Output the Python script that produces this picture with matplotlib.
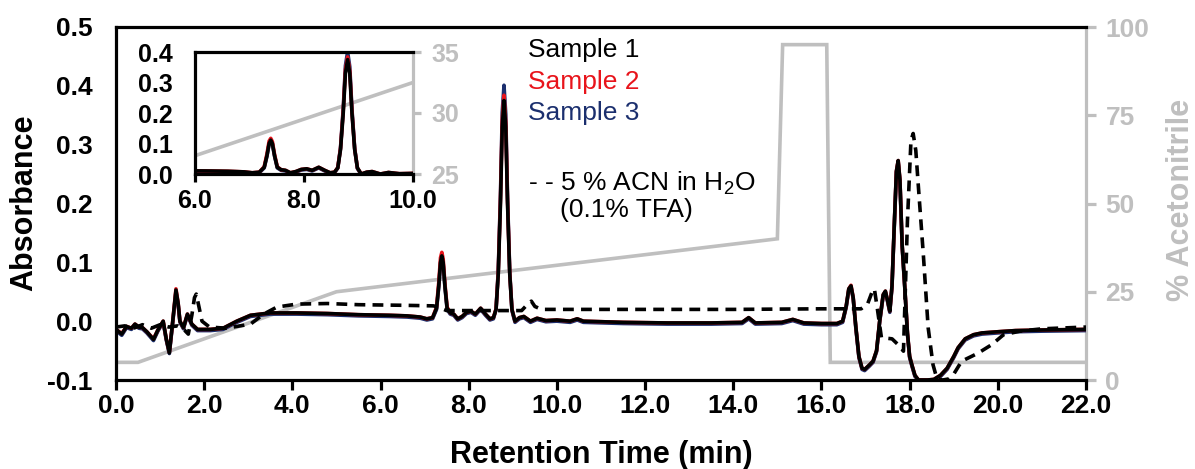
import matplotlib
matplotlib.use("Agg")
import matplotlib.pyplot as plt
from matplotlib.ticker import FixedLocator, FormatStrFormatter

plt.rcParams['font.family'] = ['Liberation Sans', 'DejaVu Sans']
plt.rcParams['mathtext.fontset'] = 'custom'
plt.rcParams['mathtext.rm'] = 'Liberation Sans'
plt.rcParams['mathtext.default'] = 'regular'

# ---------------- data ----------------
time_s = [0.00, 0.13, 0.24, 0.35, 0.43, 0.52, 0.60, 0.70, 0.85, 0.95, 1.07, 1.14, 1.21, 1.28,
          1.36, 1.41, 1.45, 1.53, 1.62, 1.72, 1.85, 2.14, 2.43, 2.74, 3.05, 3.50, 4.10, 4.80,
          5.50, 6.20, 6.60, 6.90, 7.05, 7.18, 7.27, 7.32, 7.36, 7.39, 7.42, 7.46, 7.51, 7.58,
          7.66, 7.75, 7.85, 7.95, 8.05, 8.15, 8.27, 8.38, 8.48, 8.56, 8.62, 8.67, 8.72, 8.76,
          8.80, 8.84, 8.88, 8.93, 8.98, 9.05, 9.15, 9.25, 9.40, 9.55, 9.75, 10.00, 10.30, 10.46,
          10.60, 11.50, 12.50, 13.50, 14.20, 14.35, 14.50, 15.10, 15.35, 15.60, 16.00, 16.35,
          16.48, 16.56, 16.62, 16.67, 16.72, 16.78, 16.85, 16.92, 16.98, 17.08, 17.17, 17.25,
          17.32, 17.40, 17.45, 17.50, 17.55, 17.60, 17.65, 17.70, 17.74, 17.78, 17.83, 17.89,
          17.95, 18.00, 18.05, 18.12, 18.20, 18.40, 18.55, 18.70, 18.85, 19.00, 19.10, 19.26,
          19.45, 19.64, 20.00, 20.40, 21.00, 22.00]

sample1 = [-0.014, -0.022, -0.009, -0.012, -0.005, -0.010, -0.011, -0.018, -0.031, -0.015,
           0.000, -0.030, -0.054, -0.005, 0.053, 0.030, 0.000, -0.011, 0.012, -0.005, -0.014,
           -0.014, -0.012, 0.000, 0.010, 0.014, 0.014, 0.013, 0.011, 0.010, 0.009, 0.007,
           0.004, 0.006, 0.022, 0.060, 0.100, 0.111, 0.100, 0.060, 0.022, 0.014, 0.012, 0.004,
           0.008, 0.015, 0.017, 0.012, 0.022, 0.012, 0.004, 0.006, 0.020, 0.080, 0.200, 0.330,
           0.375, 0.330, 0.200, 0.080, 0.020, 0.000, 0.006, 0.008, 0.000, 0.005, 0.001, 0.002,
           0.000, 0.004, 0.000, -0.002, -0.003, -0.003, -0.002, 0.006, -0.003, -0.002, 0.003,
           -0.003, -0.004, -0.004, 0.000, 0.025, 0.055, 0.060, 0.040, -0.010, -0.060, -0.080,
           -0.082, -0.075, -0.068, -0.050, 0.000, 0.045, 0.051, 0.035, 0.017, 0.060, 0.160,
           0.255, 0.273, 0.240, 0.130, 0.058, -0.020, -0.060, -0.074, -0.092, -0.100, -0.100,
           -0.099, -0.092, -0.080, -0.060, -0.045, -0.030, -0.023, -0.020, -0.018, -0.016,
           -0.015, -0.014]

sample2 = [-0.014, -0.021, -0.009, -0.012, -0.005, -0.010, -0.011, -0.018, -0.030, -0.015,
           0.000, -0.030, -0.053, -0.005, 0.055, 0.030, 0.000, -0.011, 0.012, -0.005, -0.014,
           -0.014, -0.012, 0.000, 0.010, 0.014, 0.014, 0.013, 0.011, 0.010, 0.009, 0.007,
           0.004, 0.006, 0.024, 0.066, 0.108, 0.117, 0.106, 0.064, 0.024, 0.014, 0.012, 0.004,
           0.008, 0.015, 0.017, 0.012, 0.022, 0.012, 0.004, 0.006, 0.021, 0.084, 0.208, 0.342,
           0.384, 0.338, 0.205, 0.082, 0.020, 0.000, 0.006, 0.008, 0.000, 0.005, 0.001, 0.002,
           0.000, 0.004, 0.000, -0.002, -0.003, -0.003, -0.002, 0.006, -0.003, -0.002, 0.003,
           -0.003, -0.004, -0.004, 0.000, 0.025, 0.055, 0.061, 0.040, -0.010, -0.060, -0.080,
           -0.082, -0.075, -0.068, -0.050, 0.000, 0.045, 0.051, 0.035, 0.017, 0.060, 0.160,
           0.255, 0.273, 0.240, 0.130, 0.058, -0.020, -0.060, -0.074, -0.092, -0.100, -0.100,
           -0.099, -0.092, -0.080, -0.060, -0.045, -0.030, -0.023, -0.020, -0.018, -0.016,
           -0.015, -0.014]

sample3 = [-0.016, -0.024, -0.011, -0.014, -0.007, -0.012, -0.013, -0.020, -0.033, -0.017,
           -0.002, -0.032, -0.055, -0.007, 0.050, 0.028, -0.002, -0.013, 0.010, -0.007, -0.016,
           -0.016, -0.014, -0.002, 0.008, 0.012, 0.012, 0.011, 0.009, 0.008, 0.007, 0.005,
           0.002, 0.004, 0.020, 0.058, 0.098, 0.110, 0.098, 0.058, 0.020, 0.012, 0.010, 0.002,
           0.006, 0.013, 0.015, 0.010, 0.020, 0.010, 0.002, 0.004, 0.020, 0.086, 0.215, 0.355,
           0.401, 0.352, 0.212, 0.084, 0.018, -0.002, 0.004, 0.006, -0.002, 0.003, -0.001, 0.000,
           -0.002, 0.002, -0.002, -0.004, -0.005, -0.005, -0.004, 0.004, -0.005, -0.004, 0.001,
           -0.005, -0.006, -0.006, -0.002, 0.023, 0.053, 0.058, 0.038, -0.012, -0.062, -0.082,
           -0.084, -0.077, -0.070, -0.052, -0.002, 0.043, 0.049, 0.033, 0.015, 0.058, 0.158,
           0.253, 0.271, 0.238, 0.128, 0.056, -0.022, -0.062, -0.076, -0.094, -0.100, -0.100,
           -0.100, -0.094, -0.082, -0.062, -0.047, -0.032, -0.025, -0.022, -0.020, -0.018,
           -0.017, -0.016]

time_blank = [0.00, 0.20, 0.40, 0.60, 0.80, 1.00, 1.20, 1.40, 1.55, 1.64, 1.72, 1.78, 1.82,
              1.88, 1.95, 2.12, 2.50, 3.05, 3.35, 3.65, 4.10, 4.80, 5.50, 6.50, 7.20, 7.30,
              7.50, 8.50, 9.20, 9.35, 9.42, 9.50, 9.65, 12.00, 14.00, 16.00, 16.90, 17.05,
              17.15, 17.20, 17.27, 17.36, 17.60, 17.74, 17.86, 17.95, 18.03, 18.08, 18.14,
              18.20, 18.31, 18.42, 18.53, 18.62, 18.75, 18.90, 19.00, 19.18, 19.40, 19.56,
              19.86, 20.13, 20.50, 21.00, 22.00]
blank = [-0.010, -0.008, -0.012, -0.006, -0.012, -0.006, -0.010, -0.008, -0.015, -0.022,
         0.010, 0.040, 0.046, 0.025, 0.000, -0.010, -0.012, -0.005, 0.012, 0.024, 0.029,
         0.030, 0.028, 0.027, 0.026, 0.024, 0.018, 0.018, 0.018, 0.030, 0.034, 0.025, 0.020,
         0.020, 0.020, 0.021, 0.021, 0.030, 0.050, 0.055, 0.020, -0.028, -0.030, -0.040,
         -0.051, 0.170, 0.307, 0.319, 0.290, 0.227, 0.114, -0.011, -0.074, -0.098, -0.100,
         -0.098, -0.090, -0.068, -0.060, -0.054, -0.040, -0.023, -0.017, -0.013, -0.010]

grad_time = [0.0, 0.5, 5.0, 15.0, 15.12, 16.12, 16.2, 22.0]
grad_acn = [5, 5, 25, 40, 95, 95, 5, 5]

x_ticks = [0, 2, 4, 6, 8, 10, 12, 14, 16, 18, 20, 22]
y_ticks = [-0.1, 0.0, 0.1, 0.2, 0.3, 0.4, 0.5]
acn_ticks = [0, 25, 50, 75, 100]
inset_x_ticks = [6, 8, 10]
inset_y_ticks = [0.0, 0.1, 0.2, 0.3, 0.4]
inset_acn_ticks = [25, 30, 35]

legend_labels = ["Sample 1", "Sample 2", "Sample 3"]

# ---------------- style ----------------
BLACK = "#000000"
RED = "#E8141B"
NAVY = "#1B2F6E"
GRAY = "#BFBFBF"
LW = 2.6
SP = 2.3
TICK_FS = 19
INSET_FS = 18
LAB_FS = 22
TXT_FS = 19
W, H = 1195, 469

fig = plt.figure(figsize=(W / 100, H / 100), dpi=100)


def frac(x0, y0, x1, y1):
    return [x0 / W, 1 - y1 / H, (x1 - x0) / W, (y1 - y0) / H]


# main axes
ax = fig.add_axes(frac(116, 27, 1086, 380))
tw = ax.twinx()
ax.set_zorder(2)
tw.set_zorder(1)
ax.patch.set_visible(False)

tw.plot(grad_time, grad_acn, color=GRAY, lw=LW, solid_joinstyle='miter')
tw.set_ylim(0, 100)
tw.yaxis.set_major_locator(FixedLocator(acn_ticks))
tw.tick_params(axis='y', colors=GRAY, labelsize=TICK_FS, width=SP, length=7, pad=7,
               direction='out')
for lab in tw.get_yticklabels():
    lab.set_fontweight('bold')
for s in ['left', 'top', 'bottom']:
    tw.spines[s].set_visible(False)
tw.spines['right'].set_color(GRAY)
tw.spines['right'].set_linewidth(SP)

ax.plot(time_s, sample3, color=NAVY, lw=LW)
ax.plot(time_s, sample2, color=RED, lw=LW)
ax.plot(time_s, sample1, color=BLACK, lw=LW)
ax.plot(time_blank, blank, color=BLACK, lw=LW, ls=(0, (3, 2)))

ax.set_xlim(0, 22)
ax.set_ylim(-0.1, 0.5)
ax.xaxis.set_major_locator(FixedLocator(x_ticks))
ax.yaxis.set_major_locator(FixedLocator(y_ticks))
ax.xaxis.set_major_formatter(FormatStrFormatter('%.1f'))
ax.yaxis.set_major_formatter(FormatStrFormatter('%.1f'))
ax.tick_params(axis='x', labelsize=TICK_FS, width=SP, length=7, direction='out', pad=3)
ax.tick_params(axis='y', labelsize=TICK_FS, length=0, pad=17)
for lab in ax.get_xticklabels() + ax.get_yticklabels():
    lab.set_fontweight('bold')
for s in ['left', 'top', 'bottom']:
    ax.spines[s].set_linewidth(SP)
    ax.spines[s].set_color(BLACK)
ax.spines['right'].set_visible(False)

fig.text(601 / W, 1 - 455 / H, "Retention Time (min)", ha='center', va='center',
         fontsize=LAB_FS, fontweight='bold')
fig.text(24 / W, 1 - 203 / H, "Absorbance", ha='center', va='center', rotation=90,
         fontsize=LAB_FS, fontweight='bold')
fig.text(1181 / W, 1 - 200 / H, "% Acetonitrile", ha='center', va='center', rotation=90,
         fontsize=LAB_FS, fontweight='bold', color=GRAY)

# legend-like text
for lab, col, yy in zip(legend_labels, [BLACK, RED, NAVY], [50, 82, 113]):
    fig.text(528 / W, 1 - yy / H, lab, ha='left', va='center', fontsize=TXT_FS, color=col)
fig.text(528 / W, 1 - 183 / H, r"- - 5 % ACN in H$_2$O", ha='left', va='center',
         fontsize=TXT_FS, color=BLACK)
fig.text(560 / W, 1 - 210 / H, "(0.1% TFA)", ha='left', va='center', fontsize=TXT_FS,
         color=BLACK)

# inset
ins = fig.add_axes(frac(195, 52, 413, 174))
itw = ins.twinx()
itw.set_zorder(4)
ins.set_zorder(5)
ins.patch.set_visible(False)
itw.patch.set_visible(True)
itw.patch.set_facecolor('white')

itw.plot(grad_time, grad_acn, color=GRAY, lw=LW)
itw.set_ylim(25, 35)
itw.yaxis.set_major_locator(FixedLocator(inset_acn_ticks))
itw.tick_params(axis='y', colors=GRAY, labelsize=INSET_FS, width=SP, length=6, pad=7)
for lab in itw.get_yticklabels():
    lab.set_fontweight('bold')
for s in ['left', 'top', 'bottom']:
    itw.spines[s].set_visible(False)
itw.spines['right'].set_color(GRAY)
itw.spines['right'].set_linewidth(SP)

ins.plot(time_s, sample3, color=NAVY, lw=LW)
ins.plot(time_s, sample2, color=RED, lw=LW)
ins.plot(time_s, sample1, color=BLACK, lw=LW)
ins.set_xlim(6, 10)
ins.set_ylim(0, 0.4)
ins.xaxis.set_major_locator(FixedLocator(inset_x_ticks))
ins.yaxis.set_major_locator(FixedLocator(inset_y_ticks))
ins.xaxis.set_major_formatter(FormatStrFormatter('%.1f'))
ins.yaxis.set_major_formatter(FormatStrFormatter('%.1f'))
ins.tick_params(axis='x', labelsize=INSET_FS, width=SP, length=6, direction='out', pad=5)
ins.tick_params(axis='y', labelsize=INSET_FS, length=0, pad=16)
for lab in ins.get_xticklabels() + ins.get_yticklabels():
    lab.set_fontweight('bold')
for s in ['left', 'top', 'bottom']:
    ins.spines[s].set_linewidth(SP)
ins.spines['right'].set_visible(False)

fig.savefig("out.png", dpi=100)
